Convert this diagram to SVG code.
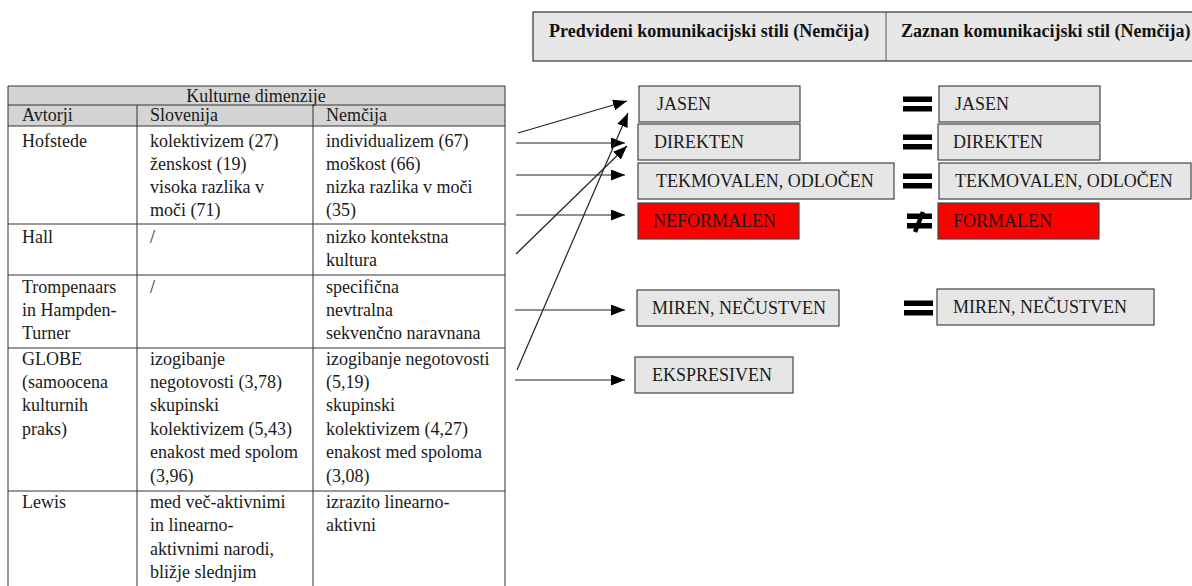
<svg xmlns="http://www.w3.org/2000/svg" width="1192" height="586" viewBox="0 0 1192 586">
  <style>
    .t { font-family: "Liberation Serif", "Times New Roman", serif; font-size: 18px; fill: #1a1a1a; }
    .hdr { font-family: "Liberation Serif", "Times New Roman", serif; font-size: 18px; font-weight: bold; fill: #111; }
    .grid { stroke: #333; stroke-width: 1; fill: none; }
    .band { fill: #d4d4d4; }
    .box { fill: #e6e6e6; stroke: #444; stroke-width: 1.2; }
    .red { fill: #ff0000; stroke: #444; stroke-width: 1.2; }
    .bt { font-family: "Liberation Serif", "Times New Roman", serif; font-size: 18px; fill: #1a1a1a; }
    .conn { stroke: #222; stroke-width: 1.2; fill: none; marker-end: url(#arrow); }
    .eq { fill: #000; }
  </style>
  <defs>
    <marker id="arrow" viewBox="0 0 14 11" refX="14" refY="5.5" markerWidth="14" markerHeight="11" markerUnits="userSpaceOnUse" orient="auto">
      <path d="M0,0 L14,5.5 L0,11 Z" fill="#000"/>
    </marker>
    <g id="eqsign">
      <rect class="eq" x="0" y="-7.5" width="29" height="5.5"/>
      <rect class="eq" x="0" y="2" width="29" height="5.5"/>
    </g>
  </defs>
  <rect width="1192" height="586" fill="#fff"/>

  <!-- header strip -->
  <g id="header">
    <rect x="533" y="12" width="670" height="49" fill="#e7e7e7" stroke="#333" stroke-width="1.2"/>
    <line x1="886" y1="12" x2="886" y2="61" stroke="#555" stroke-width="1"/>
    <text class="hdr" x="549" y="37">Predvideni komunikacijski stili (Nemčija)</text>
    <text class="hdr" x="901" y="37">Zaznan komunikacijski stil (Nemčija)</text>
  </g>

  <!-- cultural dimensions table -->
  <g id="table">
    <rect class="band" x="8" y="86" width="497" height="40"/>
    <g class="grid">
      <line x1="8" y1="86" x2="505" y2="86"/>
      <line x1="8" y1="105" x2="505" y2="105"/>
      <line x1="8" y1="126" x2="505" y2="126"/>
      <line x1="8" y1="224" x2="505" y2="224"/>
      <line x1="8" y1="275" x2="505" y2="275"/>
      <line x1="8" y1="348" x2="505" y2="348"/>
      <line x1="8" y1="491" x2="505" y2="491"/>
      <line x1="8" y1="86" x2="8" y2="590"/>
      <line x1="505" y1="86" x2="505" y2="590"/>
      <line x1="137" y1="105" x2="137" y2="590"/>
      <line x1="313" y1="105" x2="313" y2="590"/>
    </g>
    <text class="t" x="256" y="102" text-anchor="middle">Kulturne dimenzije</text>
    <text class="t" x="22" y="121">Avtorji</text>
    <text class="t" x="150" y="121">Slovenija</text>
    <text class="t" x="326" y="121">Nemčija</text>

    <text class="t" x="22" y="147">Hofstede</text>
    <text class="t" x="150" y="147">kolektivizem (27)</text>
    <text class="t" x="150" y="170">ženskost (19)</text>
    <text class="t" x="150" y="193">visoka razlika v</text>
    <text class="t" x="150" y="216">moči (71)</text>
    <text class="t" x="326" y="147">individualizem (67)</text>
    <text class="t" x="326" y="170">moškost (66)</text>
    <text class="t" x="326" y="193">nizka razlika v moči</text>
    <text class="t" x="326" y="216">(35)</text>

    <text class="t" x="22" y="243">Hall</text>
    <text class="t" x="150" y="243">/</text>
    <text class="t" x="326" y="243">nizko kontekstna</text>
    <text class="t" x="326" y="266">kultura</text>

    <text class="t" x="22" y="293">Trompenaars</text>
    <text class="t" x="22" y="316">in Hampden-</text>
    <text class="t" x="22" y="339">Turner</text>
    <text class="t" x="150" y="293">/</text>
    <text class="t" x="326" y="293">specifična</text>
    <text class="t" x="326" y="316">nevtralna</text>
    <text class="t" x="326" y="339">sekvenčno naravnana</text>

    <text class="t" x="22" y="365">GLOBE</text>
    <text class="t" x="22" y="388">(samoocena</text>
    <text class="t" x="22" y="411">kulturnih</text>
    <text class="t" x="22" y="435">praks)</text>
    <text class="t" x="150" y="365">izogibanje</text>
    <text class="t" x="150" y="388">negotovosti (3,78)</text>
    <text class="t" x="150" y="411">skupinski</text>
    <text class="t" x="150" y="435">kolektivizem (5,43)</text>
    <text class="t" x="150" y="458">enakost med spolom</text>
    <text class="t" x="150" y="482">(3,96)</text>
    <text class="t" x="326" y="365">izogibanje negotovosti</text>
    <text class="t" x="326" y="388">(5,19)</text>
    <text class="t" x="326" y="411">skupinski</text>
    <text class="t" x="326" y="435">kolektivizem (4,27)</text>
    <text class="t" x="326" y="458">enakost med spoloma</text>
    <text class="t" x="326" y="482">(3,08)</text>

    <text class="t" x="22" y="508">Lewis</text>
    <text class="t" x="150" y="508">med več-aktivnimi</text>
    <text class="t" x="150" y="531">in linearno-</text>
    <text class="t" x="150" y="555">aktivnimi narodi,</text>
    <text class="t" x="150" y="578">bližje slednjim</text>
    <text class="t" x="326" y="508">izrazito linearno-</text>
    <text class="t" x="326" y="531">aktivni</text>
  </g>

  <!-- predicted styles -->
  <g id="p-jasen"><rect class="box" x="639" y="86" width="161" height="36"/><text class="bt" x="657" y="110">JASEN</text></g>
  <g id="p-direkten"><rect class="box" x="638" y="124" width="162" height="36"/><text class="bt" x="654" y="148">DIREKTEN</text></g>
  <g id="p-tekmovalen"><rect class="box" x="638" y="163" width="256" height="36"/><text class="bt" x="656" y="187">TEKMOVALEN, ODLOČEN</text></g>
  <g id="p-neformalen"><rect class="red" x="638" y="203" width="161" height="36"/><text class="bt" x="653" y="227">NEFORMALEN</text></g>
  <g id="p-miren"><rect class="box" x="637" y="290" width="202" height="36"/><text class="bt" x="652" y="314">MIREN, NEČUSTVEN</text></g>
  <g id="p-ekspresiven"><rect class="box" x="635" y="357" width="158" height="36"/><text class="bt" x="652" y="381">EKSPRESIVEN</text></g>

  <!-- perceived styles -->
  <g id="z-jasen"><rect class="box" x="939" y="86" width="161" height="36"/><text class="bt" x="955" y="110">JASEN</text></g>
  <g id="z-direkten"><rect class="box" x="938" y="124" width="162" height="36"/><text class="bt" x="953" y="148">DIREKTEN</text></g>
  <g id="z-tekmovalen"><rect class="box" x="939" y="163" width="252" height="36"/><text class="bt" x="955" y="187">TEKMOVALEN, ODLOČEN</text></g>
  <g id="z-formalen"><rect class="red" x="938" y="203" width="161" height="36"/><text class="bt" x="953" y="227">FORMALEN</text></g>
  <g id="z-miren"><rect class="box" x="937" y="289" width="217" height="36"/><text class="bt" x="953" y="313">MIREN, NEČUSTVEN</text></g>

  <!-- comparison signs -->
  <g id="signs">
    <use href="#eqsign" x="903" y="104"/>
    <use href="#eqsign" x="903" y="142"/>
    <use href="#eqsign" x="903" y="181"/>
    <use href="#eqsign" x="904" y="308"/>
    <g id="neq">
      <rect class="eq" x="907" y="213.5" width="25" height="5.5"/>
      <rect class="eq" x="907" y="223" width="25" height="5.5"/>
      <line x1="923" y1="212" x2="915" y2="232" stroke="#000" stroke-width="4.5"/>
    </g>
  </g>

  <!-- connectors -->
  <g id="connectors">
    <line class="conn" x1="518" y1="133" x2="627" y2="101"/>
    <line class="conn" x1="516" y1="143" x2="625" y2="143"/>
    <line class="conn" x1="516" y1="175" x2="625" y2="175"/>
    <line class="conn" x1="516" y1="215" x2="625" y2="215"/>
    <line class="conn" x1="516" y1="254" x2="627" y2="146"/>
    <line class="conn" x1="517" y1="370" x2="628" y2="113"/>
    <line class="conn" x1="515" y1="310" x2="625" y2="310"/>
    <line class="conn" x1="515" y1="380" x2="625" y2="380"/>
  </g>
</svg>
